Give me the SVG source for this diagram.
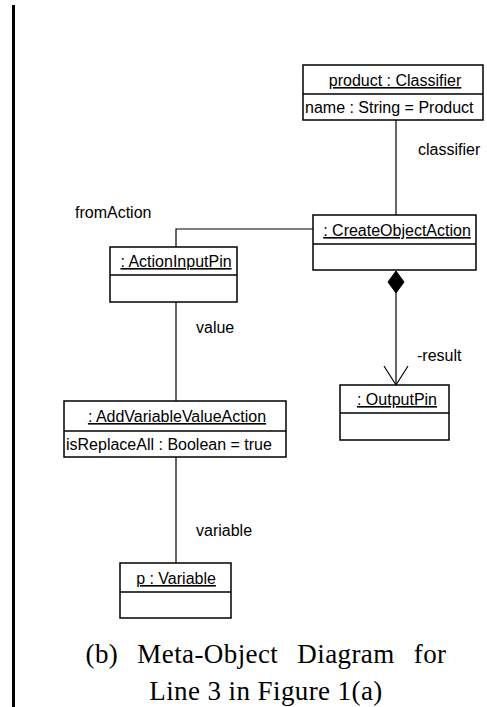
<svg xmlns="http://www.w3.org/2000/svg" width="487" height="707" viewBox="0 0 487 707">
<style>
  .box { fill: #ffffff; stroke: #000000; stroke-width: 1.5; }
  .div { stroke: #000000; stroke-width: 1.5; }
  .t { font-family: "Liberation Sans", Arial, sans-serif; font-size: 16px; fill: #000000; }
  .h { text-anchor: middle; text-decoration: underline; }
  .conn { fill: none; stroke: #000000; stroke-width: 1.2; }
  .cap { font-family: "Liberation Serif", "DejaVu Serif", serif; font-size: 27px; fill: #000000; text-anchor: middle; letter-spacing: 0.4px; }
</style>
<rect x="0" y="0" width="487" height="707" fill="#ffffff"/>
<rect x="12" y="5" width="3" height="702" fill="#000000"/>
<g id="connectors">
  <line class="conn" x1="396" y1="120" x2="396" y2="215"/>
  <polyline class="conn" points="313,229 176,229 176,247"/>
  <line class="conn" x1="396" y1="293" x2="396" y2="385"/>
  <polygon points="396,271 404,282 396,293 388,282" fill="#000000" stroke="#000000" stroke-width="1"/>
  <polyline class="conn" points="384,366 396,385 408,366"/>
  <line class="conn" x1="176" y1="302" x2="176" y2="401"/>
  <line class="conn" x1="176" y1="457" x2="176" y2="563"/>
  <text class="t" x="418" y="155">classifier</text>
  <text class="t" x="75" y="218">fromAction</text>
  <text class="t" x="196" y="333">value</text>
  <text class="t" x="417" y="361">-result</text>
  <text class="t" x="196" y="536">variable</text>
</g>
<g id="product">
  <rect class="box" x="303" y="65" width="180" height="55"/>
  <line class="div" x1="303" y1="94" x2="483" y2="94"/>
  <text class="t h" x="395" y="86">product : Classifier</text>
  <text class="t" x="305" y="113">name : String = Product</text>
</g>
<g id="createObjectAction">
  <rect class="box" x="313" y="215" width="163" height="55"/>
  <line class="div" x1="313" y1="244" x2="476" y2="244"/>
  <text class="t h" x="397" y="236">: CreateObjectAction</text>
</g>
<g id="actionInputPin">
  <rect class="box" x="110" y="247" width="127" height="55"/>
  <line class="div" x1="110" y1="275" x2="237" y2="275"/>
  <text class="t h" x="176" y="267">: ActionInputPin</text>
</g>
<g id="outputPin">
  <rect class="box" x="340" y="385" width="109" height="55"/>
  <line class="div" x1="340" y1="413" x2="449" y2="413"/>
  <text class="t h" x="397" y="405">: OutputPin</text>
</g>
<g id="addVariableValueAction">
  <rect class="box" x="64" y="401" width="222" height="56"/>
  <line class="div" x1="64" y1="431" x2="286" y2="431"/>
  <text class="t h" x="177" y="422">: AddVariableValueAction</text>
  <text class="t" x="66" y="450">isReplaceAll : Boolean = true</text>
</g>
<g id="variable">
  <rect class="box" x="120" y="563" width="111" height="55"/>
  <line class="div" x1="120" y1="592" x2="231" y2="592"/>
  <text class="t h" x="176" y="584">p : Variable</text>
</g>
<g id="caption">
  <text class="cap" x="266" y="663" word-spacing="12">(b) Meta-Object Diagram for</text>
  <text class="cap" x="266" y="700">Line 3 in Figure 1(a)</text>
</g>
</svg>
